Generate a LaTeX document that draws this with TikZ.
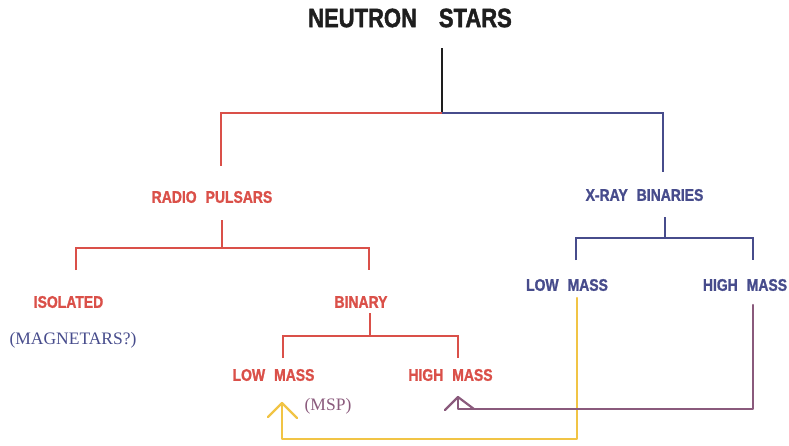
\documentclass[tikz,border=0pt]{standalone}
\usepackage{fontspec}
\newfontfamily\lblfont[FakeStretch=0.83,FakeBold=1.3]{Liberation Sans Bold}
\newfontfamily\ttlfont[FakeStretch=0.83,FakeBold=1.6]{Liberation Sans Bold}
\newfontfamily\notefont{Liberation Serif}
\newcommand\wg{\hspace{9pt}}
\definecolor{rpred}{HTML}{DA5049}
\definecolor{xbblue}{HTML}{474C8C}
\definecolor{evyellow}{HTML}{F1C445}
\definecolor{evpurple}{HTML}{8A5A7C}
\definecolor{ttlgray}{HTML}{1E1E1E}
\tikzset{
  lbl/.style={inner sep=0pt, anchor=center, font=\lblfont\fontsize{16.8}{18}\selectfont},
  ttl/.style={inner sep=0pt, anchor=center, text=ttlgray, font=\ttlfont\fontsize{26.5}{28}\selectfont},
  note/.style={inner sep=0pt, anchor=center, font=\notefont\fontsize{17.5}{19}\selectfont},
  redline/.style={draw=rpred, line width=2pt},
  blueline/.style={draw=xbblue, line width=2pt},
  yelline/.style={draw=evyellow, line width=2.4pt, line join=round, line cap=round},
  purline/.style={draw=evpurple, line width=2.2pt, line join=round, line cap=round},
}
\begin{document}
\begin{tikzpicture}[x=1pt, y=-1pt]
\useasboundingbox (0,0) rectangle (789,445);

% labels
\node[ttl] (ns) at (410,18) {NEUTRON\hspace{22pt}STARS};
\node[lbl, text=rpred] (rp) at (212,197) {RADIO\wg PULSARS};
\node[lbl, text=xbblue] (xb) at (644.5,195) {X-RAY\wg BINARIES};
\node[lbl, text=rpred] (iso) at (68.5,302) {ISOLATED};
\node[note, text=xbblue] (mag) at (73,340) {(MAGNETARS?)};
\node[lbl, text=rpred] (bin) at (361,302) {BINARY};
\node[lbl, text=rpred] (rlm) at (273.5,375) {LOW\wg MASS};
\node[lbl, text=rpred] (rhm) at (450.5,375) {HIGH\wg MASS};
\node[note, text=evpurple] (msp) at (328,406) {(MSP)};
\node[lbl, text=xbblue] (xlm) at (567,285) {LOW\wg MASS};
\node[lbl, text=xbblue] (xhm) at (745,285) {HIGH\wg MASS};

% junctions of the tree
\coordinate (j0) at (442,113);
\coordinate (j0top) at (442,48);
\coordinate (jr) at (221,113);
\coordinate (jx) at (663,113);
\coordinate (jrpend) at (221,166);
\coordinate (jxend) at (663,172);

\coordinate (jrp) at (222,248);
\coordinate (jrpup) at (222,220);
\coordinate (jiso) at (76,248);
\coordinate (jisoend) at (76,270);
\coordinate (jbin) at (369,248);
\coordinate (jbinend) at (369,270);

\coordinate (jb) at (370,336);
\coordinate (jbup) at (370,313);
\coordinate (jrlm) at (283,336);
\coordinate (jrlmend) at (283,358);
\coordinate (jrhm) at (458,336);
\coordinate (jrhmend) at (458,358);

\coordinate (jxb) at (665,238);
\coordinate (jxbup) at (665,217);
\coordinate (jxlm) at (576,238);
\coordinate (jxlmend) at (576,260);
\coordinate (jxhm) at (753,238);
\coordinate (jxhmend) at (753,260);

% top split
\draw[ttlgray, line width=2pt] (j0top) -- (j0);
\draw[redline] (j0) -- (jr) -- (jrpend);
\draw[blueline] (j0) -- (jx) -- (jxend);

% radio pulsars
\draw[redline] (jrpup) -- (jrp);
\draw[redline] (jisoend) -- (jiso) -- (jbin) -- (jbinend);
\draw[redline] (jbup) -- (jb);
\draw[redline] (jrlmend) -- (jrlm) -- (jrhm) -- (jrhmend);

% x-ray binaries
\draw[blueline] (jxbup) -- (jxb);
\draw[blueline] (jxlmend) -- (jxlm) -- (jxhm) -- (jxhmend);

% low-mass X-ray binaries evolve to low-mass radio binaries
\coordinate (ylstart) at (577,298);
\coordinate (ylc1) at (577,439);
\coordinate (ylc2) at (282,439);
\coordinate (yltip) at (282,403);
\coordinate (ylarmL) at (268,417);
\coordinate (ylarmR) at (297,418);
\draw[yelline] (ylstart) -- (ylc1) -- (ylc2) -- (yltip);
\draw[yelline] (ylarmL) -- (yltip) -- (ylarmR);

% high-mass X-ray binaries evolve to high-mass radio binaries
\coordinate (plstart) at (753,305);
\coordinate (plc1) at (753,409);
\coordinate (plc2) at (458,409);
\coordinate (pltip) at (458,397);
\coordinate (plarmL) at (445,410);
\coordinate (plarmR) at (474,409);
\draw[purline] (plstart) -- (plc1) -- (plc2) -- (pltip);
\draw[purline] (plarmL) -- (pltip) -- (plarmR);
\end{tikzpicture}
\end{document}
